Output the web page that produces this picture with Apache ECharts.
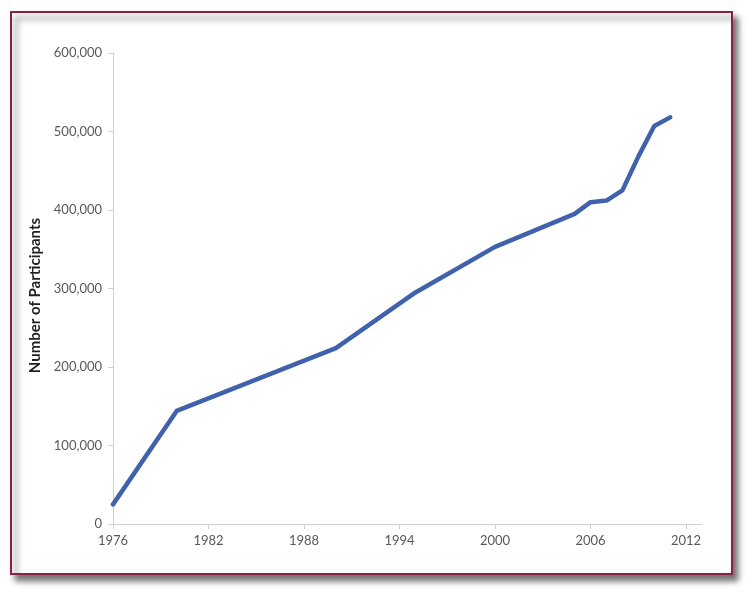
<!DOCTYPE html>
<html>
<head>
<meta charset="utf-8">
<script src="https://cdn.jsdelivr.net/npm/echarts@6/dist/echarts.min.js"></script>
<style>
html,body{margin:0;padding:0;background:#fff;}
#c{width:750px;height:593px;}
</style>
</head>
<body>
<div id="c"></div>
<script>
const years = [1976, 1980, 1990, 1995, 2000, 2005, 2006, 2007, 2008, 2009, 2010, 2011];
const participants = [25000, 144000, 224000, 295000, 353000, 395000, 410000, 412000, 425000, 468000, 507000, 518000];
const xTicks = [1976, 1982, 1988, 1994, 2000, 2006, 2012];
const yAxisTitle = 'Number of Participants';

const chart = echarts.init(document.getElementById('c'), null, {renderer: 'canvas'});
const font = 'Lato, "Open Sans", sans-serif';
chart.setOption({
  backgroundColor: '#ffffff',
  animation: false,
  graphic: [{
    type: 'rect',
    left: 10, top: 11,
    shape: {width: 721, height: 562},
    style: {fill: '#ffffff', stroke: '#8c1f48', lineWidth: 2,
      shadowBlur: 6, shadowOffsetX: 5, shadowOffsetY: 6, shadowColor: 'rgba(0,0,0,0.55)'},
    z: -10
  }],
  grid: {left: 113, right: 48, top: 53, bottom: 69},
  xAxis: {
    type: 'value', min: 1976, max: 2013, interval: 6,
    axisLine: {show: true, lineStyle: {color: '#d0d0d0', width: 1}},
    axisTick: {show: true, length: 5, lineStyle: {color: '#d0d0d0'}, customValues: xTicks},
    axisLabel: {color: '#595959', fontFamily: font, fontSize: 13, margin: 10, customValues: xTicks,
      formatter: v => String(v)},
    splitLine: {show: false}
  },
  yAxis: {
    type: 'value', min: 0, max: 600000, interval: 100000,
    name: yAxisTitle, nameLocation: 'middle', nameGap: 70, nameRotate: 90,
    nameTextStyle: {color: '#222', fontFamily: font, fontSize: 15, fontWeight: 'bold', padding: [0, 14, 0, 0]},
    axisLine: {show: true, lineStyle: {color: '#d0d0d0', width: 1}},
    axisTick: {show: true, length: 5, lineStyle: {color: '#d0d0d0'}},
    axisLabel: {color: '#595959', fontFamily: font, fontSize: 13, margin: 11,
      formatter: v => v.toLocaleString('en-US')},
    splitLine: {show: false}
  },
  series: [{
    type: 'line',
    data: years.map((y, i) => [y, participants[i]]),
    showSymbol: false,
    lineStyle: {color: '#4062ad', width: 4.5, join: 'round', cap: 'round'},
    itemStyle: {color: '#4062ad'}
  }]
});
</script>
</body>
</html>
